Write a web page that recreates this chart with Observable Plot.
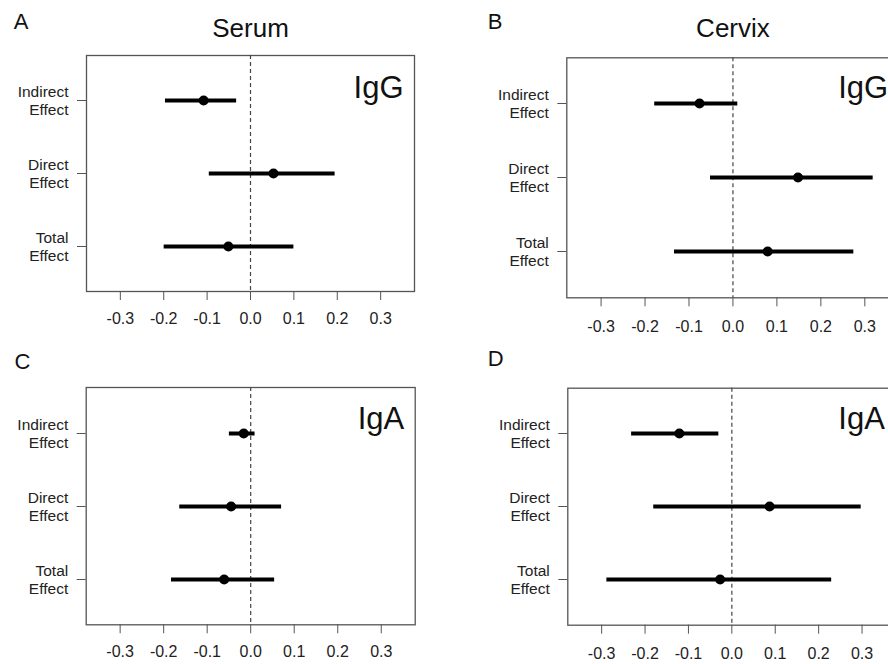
<!DOCTYPE html>
<html><head><meta charset="utf-8">
<script src="https://cdn.jsdelivr.net/npm/d3@7"></script>
<script src="https://cdn.jsdelivr.net/npm/@observablehq/plot@0.6"></script>
<style>
body{margin:0;background:#fff;}
#fig{position:relative;width:888px;height:664px;overflow:hidden;background:#fff;}
#fig svg{position:absolute;}
</style></head><body><div id="fig"></div>
<script>
// ---- data ----
const effects = ["Indirect Effect", "Direct Effect", "Total Effect"];
const xTicks = [-0.3, -0.2, -0.1, 0.0, 0.1, 0.2, 0.3];

const serumIgG_est = [-0.108, 0.053, -0.051];
const serumIgG_lo  = [-0.196, -0.095, -0.199];
const serumIgG_hi  = [-0.032, 0.195, 0.100];

const cervixIgG_est = [-0.076, 0.148, 0.079];
const cervixIgG_lo  = [-0.178, -0.051, -0.133];
const cervixIgG_hi  = [0.011, 0.319, 0.275];

const serumIgA_est = [-0.016, -0.045, -0.061];
const serumIgA_lo  = [-0.049, -0.163, -0.182];
const serumIgA_hi  = [0.010, 0.071, 0.055];

const cervixIgA_est = [-0.121, 0.087, -0.027];
const cervixIgA_lo  = [-0.231, -0.180, -0.288];
const cervixIgA_hi  = [-0.030, 0.298, 0.230];

const FONT = "'Liberation Sans', Arial, Helvetica, sans-serif";
const fig = document.getElementById("fig");

function panel(cfg) {
  const rows = effects.map((e, i) => ({effect: e, est: cfg.est[i], lo: cfg.lo[i], hi: cfg.hi[i]}));
  const f = cfg.frame; // absolute frame box [left, right, top, bottom]
  const marginLeft = f[0] - cfg.left, marginTop = f[2] - cfg.top;
  const marginRight = cfg.left + cfg.width - f[1], marginBottom = cfg.top + cfg.height - f[3];
  const marks = [
    Plot.frame({stroke: "#555", strokeWidth: 1.3}),
    Plot.ruleX([0], {stroke: "#444", strokeWidth: 1.2, strokeDasharray: "4,3"}),
    Plot.ruleY(rows, {y: "effect", x1: "lo", x2: "hi", stroke: "#000", strokeWidth: 4}),
    Plot.dot(rows, {x: "est", y: "effect", r: 5, fill: "#000"}),
    Plot.axisX({ticks: xTicks, tickFormat: d => d.toFixed(1), tickSize: 9, tickPadding: cfg.xPad,
      fontSize: 16, stroke: "#555", fill: "#222", label: null}),
    Plot.axisY({tickFormat: d => d.replace(" ", "\n"), tickSize: 9, tickPadding: 9,
      fontSize: 15.5, lineHeight: 1.16, stroke: "#555", fill: "#222", label: null}),
    Plot.text([cfg.iso], {frameAnchor: "top-right", textAnchor: "end", lineAnchor: "bottom",
      dx: -11, dy: cfg.isoBase - f[2], fontSize: 31, fill: "#111"}),
    Plot.text([cfg.letter], {frameAnchor: "top-left", textAnchor: "start", lineAnchor: "bottom",
      dx: cfg.letterPos[0] - f[0], dy: cfg.letterPos[1] - f[2], fontSize: 22, fill: "#111"})
  ];
  if (cfg.title) marks.push(Plot.text([cfg.title], {frameAnchor: "top", lineAnchor: "bottom",
      dy: cfg.titleBase - f[2], fontSize: 26, fill: "#111"}));
  const svg = Plot.plot({
    width: cfg.width, height: cfg.height,
    marginLeft, marginRight, marginTop, marginBottom,
    style: {fontFamily: FONT, background: "transparent", color: "#222", overflow: "visible"},
    x: {domain: [-0.378, 0.378], label: null},
    y: {type: "point", domain: effects, padding: 0.616, label: null},
    marks
  });
  svg.style.left = cfg.left + "px";
  svg.style.top = cfg.top + "px";
  svg.style.maxWidth = "none";
  fig.appendChild(svg);
}

panel({est: serumIgG_est, lo: serumIgG_lo, hi: serumIgG_hi, iso: "IgG", letter: "A", title: "Serum",
  left: 0, top: 0, width: 444, height: 332, frame: [86, 414, 55, 291],
  xPad: 12, isoBase: 97.7, letterPos: [13.3, 28.3], titleBase: 36.7});
panel({est: cervixIgG_est, lo: cervixIgG_lo, hi: cervixIgG_hi, iso: "IgG", letter: "B", title: "Cervix",
  left: 444, top: 0, width: 456, height: 332, frame: [566.3, 898.6, 57.3, 297.3],
  xPad: 13.5, isoBase: 97.7, letterPos: [487.3, 28.3], titleBase: 36.7});
panel({est: serumIgA_est, lo: serumIgA_lo, hi: serumIgA_hi, iso: "IgA", letter: "C", title: null,
  left: 0, top: 332, width: 444, height: 332, frame: [85.7, 414.7, 387, 624.3],
  xPad: 12.3, isoBase: 428.7, letterPos: [14, 368]});
panel({est: cervixIgA_est, lo: cervixIgA_lo, hi: cervixIgA_hi, iso: "IgA", letter: "D", title: null,
  left: 444, top: 332, width: 456, height: 332, frame: [567.3, 895.4, 387.7, 624.7],
  xPad: 13, isoBase: 428.7, letterPos: [487.3, 365.3]});
</script></body></html>
